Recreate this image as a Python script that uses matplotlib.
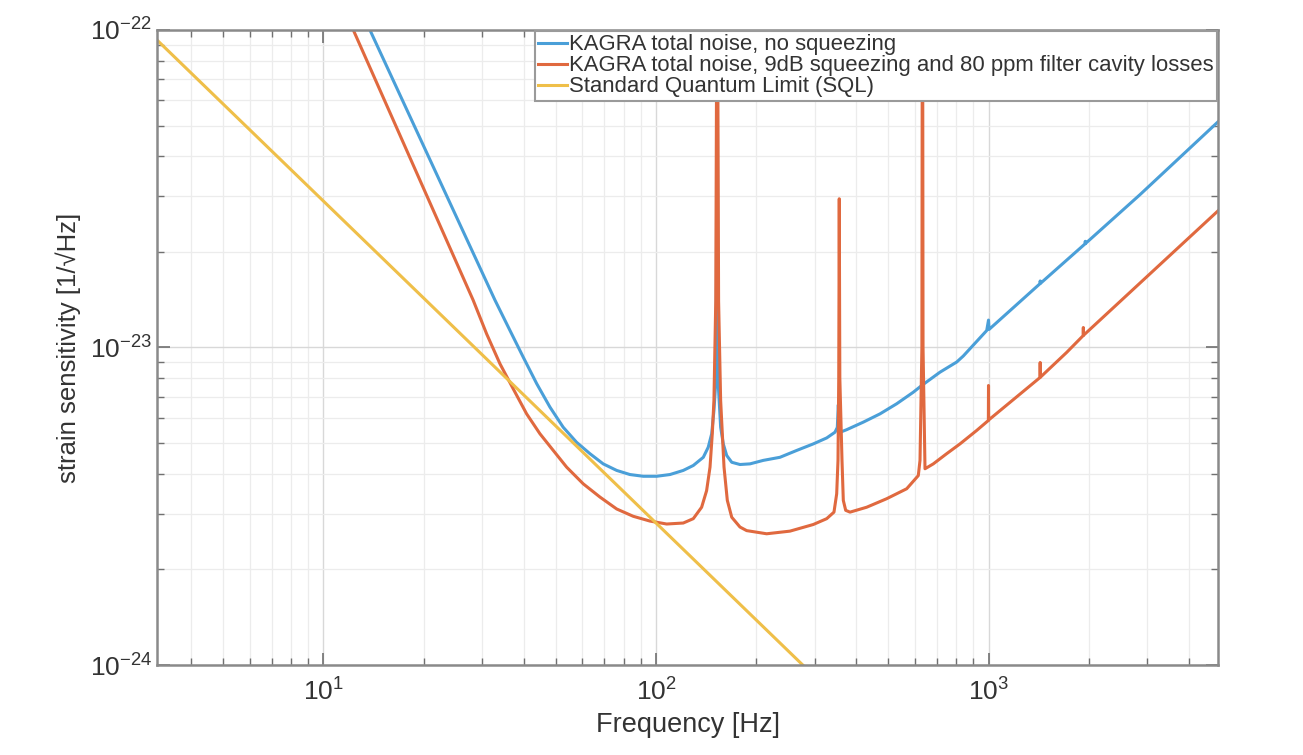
import matplotlib
matplotlib.use("Agg")
from matplotlib import pyplot as plt
from matplotlib.ticker import LogLocator, NullFormatter, FixedLocator

plt.rcParams['font.family'] = ['Liberation Sans', 'DejaVu Sans']
plt.rcParams['axes.unicode_minus'] = False

# frequences (Hz) et sensibilites lues sur la figure
# bruit total sans squeezing
f_nosq = [13.0, 13.8, 32.8, 36.4, 39.9, 43.8, 48.0, 52.6, 57.7, 63.3, 69.4, 76.2,
          83.5, 91.6, 100.5, 110.2, 120.8, 129.5, 138.8, 143.6, 147.1, 149.4, 151.2,
          152.0, 152.5, 152.9, 153.4, 153.9, 156.5, 159.4, 163.2, 169.0, 178.9, 191.8,
          210.2, 236.0, 265.0, 297.2, 326.2, 345.4, 351.0, 353.5, 356.0, 360.0, 374.6,
          420.3, 471.8, 529.6, 594.0, 629.6, 714.6, 802.4, 839.7, 987.6, 1000, 1004,
          1428, 1430, 1433, 1951, 1954, 1957, 2855, 4911]
h_nosq = [1.15e-22, 1.0e-22, 1.41e-23, 1.131e-23, 9.32e-24, 7.69e-24, 6.49e-24, 5.61e-24,
          5.03e-24, 4.63e-24, 4.30e-24, 4.10e-24, 3.98e-24, 3.93e-24, 3.93e-24, 3.98e-24,
          4.10e-24, 4.25e-24, 4.51e-24, 4.85e-24, 5.35e-24, 6.33e-24, 7.69e-24,
          1.6e-23, 1.5e-22, 1.5e-22, 1.6e-23, 7.69e-24, 5.61e-24, 4.97e-24, 4.57e-24,
          4.35e-24, 4.28e-24, 4.30e-24, 4.41e-24, 4.51e-24, 4.74e-24, 4.97e-24, 5.19e-24,
          5.41e-24, 5.6e-24, 6.6e-24, 5.5e-24, 5.42e-24, 5.51e-24, 5.82e-24, 6.18e-24,
          6.65e-24, 7.23e-24, 7.59e-24, 8.36e-24, 9.0e-24, 9.4e-24, 1.131e-23,
          1.22e-23, 1.14e-23, 1.588e-23, 1.62e-23, 1.592e-23, 2.12e-23, 2.16e-23,
          2.125e-23, 3.03e-23, 5.15e-23]

# bruit total avec 9 dB de squeezing
f_sq = [11.5, 12.3, 28.2, 30.96, 33.95, 37.22, 40.84, 44.78, 49.11, 53.87, 60.45, 67.86,
        76.2, 85.45, 95.9, 107.7, 120.8, 129.5, 137.2, 142.0, 145.4, 147.7, 149.4,
        151.3, 152.5, 153.1, 154.3, 156.5, 160.2, 163.9, 169.0, 178.9, 187.4, 191.8,
        215.2, 252.9, 297.2, 326.2, 343.0, 349.5, 352.7, 354.5, 355.8, 357.2, 362.6,
        365.9, 372.0, 383.3, 430.2, 494.1, 567.5, 615.0, 622.3, 630.5, 632.5, 633.5,
        635.5, 644.2, 682.3, 748.6, 820.8, 921.5, 999, 1000, 1001, 1428, 1430, 1432,
        1718, 1926, 1928, 1930, 4911]
h_sq = [1.17e-22, 1.0e-22, 1.41e-23, 1.104e-23, 8.89e-24, 7.41e-24, 6.18e-24, 5.35e-24,
        4.74e-24, 4.20e-24, 3.72e-24, 3.38e-24, 3.10e-24, 2.94e-24, 2.84e-24, 2.78e-24,
        2.80e-24, 2.89e-24, 3.14e-24, 3.54e-24, 4.20e-24, 5.35e-24, 6.81e-24, 1.4e-23,
        1.5e-22, 1.5e-22, 1.4e-23, 6.81e-24, 4.20e-24, 3.30e-24, 2.92e-24, 2.72e-24,
        2.65e-24, 2.64e-24, 2.59e-24, 2.64e-24, 2.77e-24, 2.89e-24, 3.03e-24, 3.46e-24,
        4.41e-24, 8.0e-24, 2.94e-23, 8.0e-24, 4.41e-24, 3.30e-24, 3.07e-24, 3.03e-24,
        3.14e-24, 3.34e-24, 3.59e-24, 3.95e-24, 4.41e-24, 1.0e-23, 2e-22, 2e-22,
        1.0e-23, 4.15e-24, 4.30e-24, 4.63e-24, 4.97e-24, 5.48e-24, 5.89e-24, 7.59e-24,
        5.91e-24, 8.04e-24, 8.97e-24, 8.06e-24, 9.65e-24, 1.09e-23, 1.156e-23,
        1.092e-23, 2.70e-23]

# limite quantique standard
f_sql = [3.0, 300]
h_sql = [9.8e-23, 9.2e-25]

labels = ["KAGRA total noise, no squeezing",
          "KAGRA total noise, 9dB squeezing and 80 ppm filter cavity losses",
          "Standard Quantum Limit (SQL)"]
couleurs = ['#4a9fd8', '#e0693f', '#efbf49']

x_ticks = [10, 100, 1000]
y_ticks = [1e-24, 1e-23, 1e-22]

fig = plt.figure(figsize=(13.03, 7.55), dpi=100)
ax = fig.add_axes([0.1205, 0.1192, 0.8143, 0.8411])

ax.loglog(f_nosq, h_nosq, color=couleurs[0], lw=2.2, label=labels[0])
ax.loglog(f_sq, h_sq, color=couleurs[1], lw=2.2, label=labels[1])
ax.loglog(f_sql, h_sql, color=couleurs[2], lw=2.2, label=labels[2])

ax.set_xlim(3.16, 4900)
ax.set_ylim(1e-24, 1e-22)

ax.xaxis.set_major_locator(FixedLocator(x_ticks))
ax.yaxis.set_major_locator(FixedLocator(y_ticks))
ax.set_xticklabels([r'$\mathdefault{10^{1}}$', r'$\mathdefault{10^{2}}$', r'$\mathdefault{10^{3}}$'])
ax.set_yticklabels([r'$\mathdefault{10^{-24}}$', r'$\mathdefault{10^{-23}}$', r'$\mathdefault{10^{-22}}$'])
ax.xaxis.set_minor_locator(LogLocator(base=10, subs=range(2, 10), numticks=20))
ax.yaxis.set_minor_locator(LogLocator(base=10, subs=range(2, 10), numticks=20))
ax.xaxis.set_minor_formatter(NullFormatter())
ax.yaxis.set_minor_formatter(NullFormatter())

ax.grid(True, which='major', color='#d8d8d8', lw=1.0)
ax.grid(True, which='minor', color='#ececec', lw=0.9)
ax.set_axisbelow(True)

ax.tick_params(which='both', direction='in', top=True, right=True, colors='#707070',
               labelcolor='#333333', labelsize=19)
ax.tick_params(axis='x', which='major', pad=10)
ax.tick_params(which='major', length=9, width=1.2)
ax.tick_params(which='minor', length=5, width=1.0)
for s in ax.spines.values():
    s.set_color('#8a8a8a')
    s.set_linewidth(1.8)

ax.set_xlabel("Frequency [Hz]", fontsize=19.5, color='#333333', labelpad=4)
ax.set_ylabel("strain sensitivity [1/\u221aHz]", fontsize=18.5, color='#333333', labelpad=6)

leg = ax.legend(loc='upper right', bbox_to_anchor=(1.0, 1.0), borderaxespad=0.05,
                fontsize=15.9, fancybox=False, framealpha=1, edgecolor='#9a9a9a',
                handlelength=1.3, handletextpad=0.1, labelspacing=0.0,
                borderpad=0.15)
leg.get_frame().set_linewidth(1.5)
for t in leg.get_texts():
    t.set_color('#333333')

plt.savefig('out.png', dpi=100)
